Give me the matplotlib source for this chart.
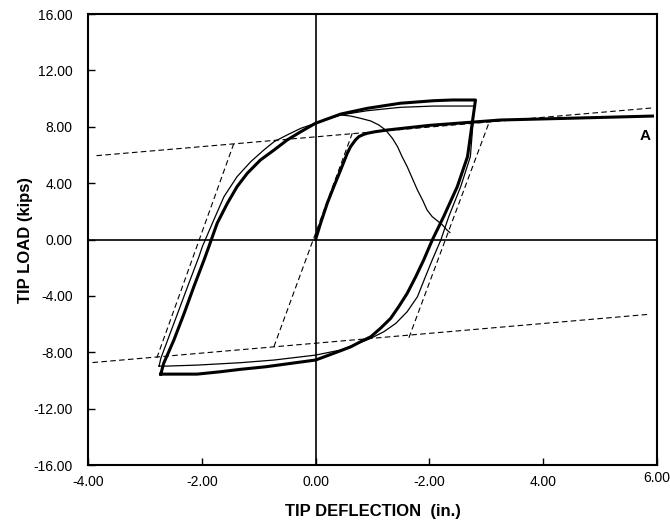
"""
Tip load vs tip deflection: hysteresis loops, monotonic curve A and
the idealised bilinear model (dashed).
"""
import matplotlib
matplotlib.use("Agg")
import matplotlib.pyplot as plt
from matplotlib.transforms import ScaledTranslation

plt.rcParams["font.family"] = ["Liberation Sans", "DejaVu Sans"]

# monotonic curve "A" (thick)
mono_x = [0.0, 0.088, 0.205, 0.32, 0.44, 0.557, 0.615, 0.70, 0.76, 0.84, 0.91, 1.05, 1.26, 2.0, 3.25, 4.42, 5.92]
mono_y = [0.0, 1.15, 2.57, 3.75, 4.93, 6.12, 6.59, 7.06, 7.30, 7.45, 7.54, 7.65, 7.77, 8.10, 8.48, 8.60, 8.76]

# thick hysteresis loop
thick_x = [-2.72, -2.67, -2.49, -2.31, -2.14, -1.96, -1.875, -1.73, -1.55, -1.38, -1.20, -0.97, -0.73, -0.50,
           -0.26, 0.0, 0.44, 0.91, 1.49, 2.08, 2.40, 2.81,
           2.67, 2.49, 2.25, 2.05, 1.90, 1.76, 1.61, 1.46, 1.32, 1.14, 0.97, 0.79, 0.62, 0.44, 0.0,
           -0.44, -0.88, -1.32, -1.67, -2.08, -2.72]
thick_y = [-9.55, -8.79, -7.13, -5.24, -3.35, -1.45, -0.5, 1.15, 2.57, 3.75, 4.70, 5.64, 6.35, 7.06,
           7.65, 8.25, 8.90, 9.31, 9.67, 9.85, 9.90, 9.90,
           5.88, 3.75, 1.62, -0.04, -1.45, -2.64, -3.82, -4.77, -5.59, -6.30, -6.90, -7.25, -7.61, -7.89, -8.55,
           -8.79, -9.03, -9.21, -9.38, -9.55, -9.55]

# thin hysteresis loop
thin_x = [-2.75, -2.72, -2.49, -2.25, -2.05, -1.99, -1.79, -1.61, -1.38, -1.14, -0.91, -0.73, -0.50, -0.26,
          0.0, 0.44, 0.91, 1.49, 2.08, 2.79,
          2.72, 2.55, 2.34, 2.20, 2.05, 1.93, 1.79, 1.61, 1.41, 1.20, 0.97, 0.70, 0.44, 0.0,
          -0.73, -1.32, -2.08, -2.61, -2.75]
thin_y = [-8.98, -8.43, -5.95, -3.35, -1.22, -0.5, 1.38, 3.04, 4.46, 5.52, 6.35, 6.94, 7.42, 7.89,
          8.25, 8.84, 9.14, 9.38, 9.47, 9.47,
          5.88, 3.75, 1.62, -0.04, -1.45, -2.64, -4.06, -5.12, -5.95, -6.54, -7.01, -7.45, -7.84, -8.20,
          -8.55, -8.74, -8.91, -8.98, -8.98]

# thin degrading curve
drop_x = [0.35, 0.44, 0.62, 0.79, 0.97, 1.11, 1.23, 1.35, 1.44, 1.52, 1.61, 1.70, 1.79, 1.88, 1.96,
          2.05, 2.14, 2.23, 2.31, 2.36]
drop_y = [8.78, 8.84, 8.76, 8.60, 8.41, 8.13, 7.77, 7.18, 6.59, 5.88, 5.17, 4.34, 3.51, 2.80, 2.09,
          1.62, 1.33, 1.03, 0.67, 0.50]

# bilinear model (dashed)
upper_x = [-3.85, 5.90]
upper_y = [5.95, 9.33]
lower_x = [-3.92, 5.85]
lower_y = [-8.73, -5.31]
elastic_segs = [
    ([-0.733, 0.645], [-7.61, 7.54]),
    ([-2.79, -1.44], [-8.40, 6.78]),
    ([1.64, 3.05], [-6.97, 8.32]),
]

xticks = [-4, -2, 0, 2, 4, 6]
xtick_labels = ["-4.00", "-2.00", "0.00", "-2.00", "4.00", "6.00"]
yticks = [-16, -12, -8, -4, 0, 4, 8, 12, 16]

fig = plt.figure(figsize=(6.7, 5.27), dpi=100)
ax = fig.add_axes([0.1313, 0.1176, 0.8493, 0.8558])

ax.axhline(0, color="black", lw=1.2, zorder=1)
ax.axvline(0, color="black", lw=1.2, zorder=1)

dash = dict(color="black", lw=0.8, linestyle=(0, (5, 3)))
ax.plot(upper_x, upper_y, **dash)
ax.plot(lower_x, lower_y, **dash)
for sx, sy in elastic_segs:
    ax.plot(sx, sy, **dash)

ax.plot(thin_x, thin_y, color="black", lw=0.9)
ax.plot(drop_x, drop_y, color="black", lw=0.9)
ax.plot(thick_x, thick_y, color="black", lw=2.2)
ax.plot(mono_x, mono_y, color="black", lw=2.2)

ax.text(5.80, 7.35, "A", fontsize=11, fontweight="bold", ha="center", va="center")

ax.set_xlim(-4, 6)
ax.set_ylim(-16, 16)
ax.set_xticks(xticks)
ax.set_xticklabels(xtick_labels)
ax.set_yticks(yticks)
ax.set_yticklabels([f"{v:.2f}" for v in yticks])
ax.tick_params(direction="in", length=5, width=1, labelsize=10, top=False, right=False)
ax.tick_params(axis="y", pad=11)
ax.tick_params(axis="x", pad=7)
for s in ax.spines.values():
    s.set_linewidth(1.5)

# the last x label sits a little higher in the original
last = ax.get_xticklabels()[-1]
last.set_transform(last.get_transform() + ScaledTranslation(0, 3 / 72, fig.dpi_scale_trans))

ax.set_xlabel("TIP DEFLECTION  (in.)", fontsize=12, fontweight="bold", labelpad=11)
ax.set_ylabel("TIP LOAD (kips)", fontsize=12, fontweight="bold", labelpad=0)

fig.savefig("out.png", dpi=100)
